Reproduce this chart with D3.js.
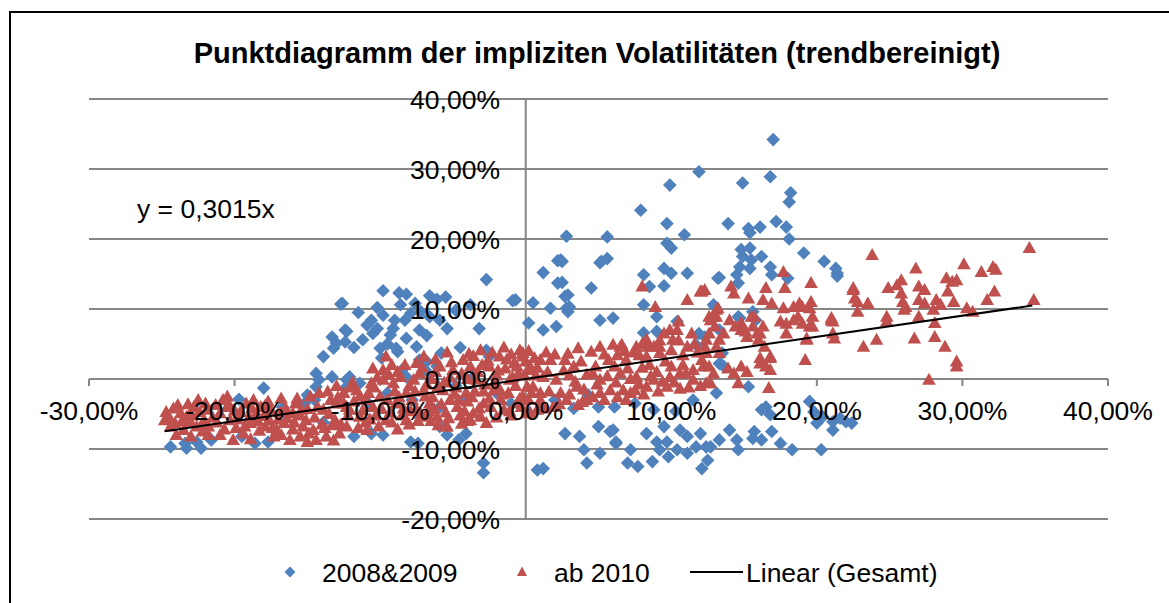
<!DOCTYPE html>
<meta charset="utf-8">
<style>
  body { margin: 0; background: #fff; }
  text { font-family: "Liberation Sans", Arial, sans-serif; }
</style>
<svg width="1169" height="603"></svg>
<script src="https://d3js.org/d3.v7.min.js"></script>
<script>
// values in percent
var xTicks = [-30, -20, -10, 0, 10, 20, 30, 40]
var yTicks = [-20, -10, 0, 10, 20, 30, 40]
var slope = 0.3015
var trendRange = [-24.8, 34.8]

var blue = [
  [-12.7,10.7],[-13.3,6.0],[-13.0,5.1],[-12.4,7.0],[-13.2,4.4],[-13.9,3.2],[-14.4,0.8],[-14.2,-0.1],[-13.3,0.3],[-14.4,-1.1],[-15.0,-2.3],[-15.2,-3.5],[-14.5,-3.0],[-18.0,-1.3],[-16.7,-4.0],[-19.7,-2.9],
  [-24.4,-9.7],[-23.4,-9.2],[-23.3,-9.9],[-22.6,-9.0],[-22.3,-9.9],[-21.6,-8.7],[-22.1,-6.8],[-18.6,-9.2],[-17.7,-9.0],[-19.5,-8.2],[-12.4,-1.3],[-12.3,-0.1],[-13.9,-6.2],
  [-2.7,14.2],[-9.8,12.6],[-8.7,12.3],[-8.2,12.1],[-7.6,10.8],[-6.6,11.9],[-6.1,11.4],[-5.5,11.7],[-12.6,10.8],[-0.9,11.2],[0.5,10.9],
  [-9.8,9.1],[-10.6,8.4],[-10.9,7.7],[-10.2,7.2],[-10.5,6.5],[-11.2,5.6],[-12.3,6.8],[-12.4,5.3],
  [-9.0,8.4],[-8.3,8.4],[-7.9,9.4],[-9.1,7.2],[-9.3,6.3],[-8.2,5.8],[-7.3,7.0],[-6.6,8.9],[-5.9,8.4],[-5.4,7.2],
  [-10.0,4.4],[-9.9,3.0],[-8.9,4.4],[-8.8,3.9],[0.2,8.0],
  [-7.3,2.7],[-6.8,2.5],[-5.8,3.7],[-6.1,1.8],[-6.9,1.3],[-8.5,1.3],[-8.2,0.3],[-12.1,0.3],[-11.4,-0.6],
  [-11.8,-8.2],[-10.6,-7.8],[-9.8,-8.0],[-7.9,-9.0],[-5.9,-6.8],[-5.4,-8.0],[-4.1,-7.8],[-2.9,-12.0],[-2.9,-13.4],[0.8,-13.0],[-7.4,-9.2],
  [1.2,15.2],[2.2,16.9],[5.1,16.6],[5.6,17.2],[2.2,13.7],
  [-0.7,11.3],[1.7,10.1],[2.7,11.8],[2.8,10.1],[2.9,9.6],[4.5,13.0],[5.1,8.4],[6.0,8.7],[1.2,7.0],[2.1,7.5],
  [2.7,-7.8],[3.7,-8.2],[4.0,-10.1],[4.2,-12.0],[5.1,-10.6],[5.8,-7.5],[6.2,-9.2],[7.2,-10.1],[7.0,-12.0],[7.7,-12.5],[1.2,-12.8],[-4.6,-8.7],
  [-2.5,3.2],[-2.7,4.1],
  [11.9,29.6],[9.9,27.7],[7.9,24.1],[9.7,22.2],[10.9,20.6],[2.8,20.4],[5.6,20.3],[9.7,19.4],[10.0,18.7],[2.4,17.0],
  [8.1,14.9],[9.5,15.8],[10.0,15.1],[11.1,15.1],[8.5,13.2],[9.5,13.3],[8.1,10.6],[9.0,8.9],[8.1,6.6],[9.0,6.8],[10.4,8.2],[13.0,10.3],[13.2,14.4],
  [5.0,-6.8],[6.0,-7.3],[6.2,-9.0],[8.3,-7.8],[8.7,-11.8],[9.0,-9.0],[9.2,-10.1],[9.5,-6.8],[9.7,-9.0],[9.8,-11.1],[10.4,-10.1],[10.6,-7.3],[11.1,-8.2],[11.1,-10.6],[11.7,-9.7],[12.0,-7.8],[12.1,-12.8],[12.5,-11.6],[12.7,-9.7],[13.1,-2.0],
  [17.0,34.2],[16.8,28.9],[14.9,28.0],[18.2,26.6],[18.1,25.3],
  [13.9,22.2],[15.3,21.5],[15.4,20.9],[16.1,21.7],[17.2,22.5],[17.9,21.7],[18.1,20.0],
  [14.8,18.5],[15.4,18.7],[14.9,17.5],[15.5,17.0],[16.2,17.5],[16.8,16.0],[16.9,14.9],[15.4,15.8],[14.7,16.0],[14.5,14.9],[14.6,13.7],[13.3,14.5],[19.1,18.0],[20.5,16.8],[21.3,15.8],[21.4,14.7],[18.0,14.4],[21.4,15.1],
  [12.9,10.6],[14.7,8.7],[15.6,9.6],[15.8,8.4],[13.3,7.0],[13.5,3.7],[13.6,1.8],[12.3,6.0],[15.3,-1.1],
  [16.2,-4.4],[16.5,-4.0],[16.8,-5.1],[19.5,-3.2],[19.8,-4.7],[20.0,-6.3],[20.4,-5.4],[21.1,-6.1],[21.6,-5.6],[22.0,-6.1],[22.4,-6.3],[21.1,-7.3],
  [14.0,-7.3],[14.5,-8.7],[15.7,-7.5],[15.6,-8.5],[16.2,-8.7],[16.9,-7.5],[17.5,-9.2],[18.3,-10.1],[20.3,-10.1],[14.6,-10.1],[13.3,-8.7],[12.4,-9.7],
  [2.5,16.8],[2.5,13.8],[2.9,12.0],[3.0,10.3],[5.2,16.8],[11.7,4.9],[13.3,2.2],[11.9,6.5],[14.6,8.9],
  [4.3,-2.3],[5.0,-4.0],[6.1,-4.0],[7.5,-3.5],[8.8,-4.4],[10.3,-4.6],[11.5,-3.0],[3.3,-4.2],[2.0,-3.0],[-1.0,-3.5],[-2.0,-2.0],
  [-9.5,-2.0],[-7.8,-3.0],[-6.0,-4.2],[-4.2,-3.0],[-10.8,-3.5],[-3.5,0.5],[-4.8,-1.0],
  [-11.5,9.5],[-10.2,10.2],[-8.6,10.6],[-7.2,9.6],[-6.8,6.2],[-11.8,4.5],[-9.5,5.0],[-7.5,4.6],[-4.8,9.8],[-3.8,10.6],[-4.5,4.5],[-3.2,7.2]
]

var red = [
  [-24.7,-4.7],[-24.8,-5.9],[-24.4,-6.8],[-23.9,-3.7],[-23.7,-4.9],[-24.1,-6.3],[-23.3,-5.4],[-22.8,-4.0],[-22.4,-4.7],[-22.1,-5.9],[-21.8,-6.8],[-21.3,-3.7],[-21.0,-4.9],[-20.5,-4.0],[-20.3,-5.9],[-20.1,-8.7],[-19.6,-4.7],[-19.2,-3.5],[-18.9,-6.3],[-18.5,-4.9],[-18.2,-4.0],[-17.9,-6.8],[-17.6,-5.9],[-17.1,-7.3],[-16.6,-6.3],[-16.2,-8.7],[-16.0,-4.9],[-15.5,-8.2],[-15.1,-5.9],[-14.6,-7.3],[-14.4,-8.7],[-13.9,-4.4],[-13.4,-3.0],[-13.1,-5.9],[-12.8,-7.8],[-12.3,-4.0],[-12.5,-2.0],[-23.5,-7.3],[-22.6,-6.8],[-19.4,-7.8],[-17.3,-8.2],[-15.3,-6.8],[-13.7,-8.2],[-18.7,-3.0],[-20.8,-3.0],
  [-24.5,-5.5],[-23.0,-6.2],[-22.0,-3.5],[-21.5,-5.5],[-20.0,-4.5],[-19.0,-5.5],[-18.0,-5.3],[-17.5,-4.5],[-17.0,-5.8],[-16.5,-4.2],[-16.0,-7.2],[-15.5,-5.2],[-15.0,-4.3],[-14.5,-5.5],[-14.0,-6.5],[-13.5,-5.0],[-13.0,-3.5],[-12.7,-6.5],[-21.8,-8.0],[-23.0,-8.2],[-19.9,-7.0],[-17.7,-3.2],[-16.8,-2.8],[-15.8,-3.5],[-14.8,-2.5],[-13.6,-1.8],[-12.0,-1.2],[-20.5,-2.5],[-22.5,-3.0],[-18.3,-7.4],
  [-24.2,-4.2],[-23.6,-6.0],[-23.2,-3.6],[-22.9,-5.2],[-22.2,-7.5],[-21.9,-4.4],[-21.2,-6.2],[-20.7,-7.2],[-20.4,-3.6],[-19.8,-5.8],[-19.3,-6.8],[-18.8,-4.2],[-18.4,-6.0],[-17.9,-3.8],[-17.4,-7.0],[-16.9,-4.8],[-16.4,-5.6],[-15.9,-6.2],[-15.4,-4.4],[-14.9,-7.8],[-14.3,-4.0],[-13.8,-7.0],[-13.3,-6.6],[-12.9,-2.6],[-12.2,-5.2],[-15.7,-2.8],[-14.2,-2.0],[-13.0,-1.0],[-24.0,-8.0],[-21.0,-8.0],[-18.9,-8.6],[-16.8,-8.0],[-15.0,-9.0],[-13.2,-8.8],
  [-12.5,-3.5],[-12.1,-4.4],[-12.3,-6.8],[-11.6,-1.6],[-11.4,-5.4],[-10.9,-7.3],[-10.6,-0.6],[-10.5,-4.0],[-10.0,-2.5],[-9.8,1.3],[-9.6,-5.9],[-9.1,-0.6],[-8.9,-3.5],[-8.6,0.3],[-8.2,-2.0],[-7.7,-0.1],[-7.5,-4.4],[-7.0,-1.6],[-6.6,-3.5],[-6.1,-5.4],[-5.7,-1.6],[-5.4,-6.8],[-5.0,1.3],[-4.7,-4.0],[-4.3,2.7],[-4.1,-2.0],[-3.8,-5.9],[-3.4,-0.1],[-3.1,4.1],[-2.9,-3.5],[-2.5,1.8],[-2.2,-1.6],[-1.8,3.2],[-1.5,-4.4],[-1.1,-0.1],[-0.8,2.2],[-0.4,4.1],[-0.2,-2.5],[0.3,1.3],[0.8,-4.4],[-11.4,-2.5],[-9.8,-0.1],[-8.2,-5.9],[-6.8,-5.4],[-5.2,-3.0],[-3.6,-4.9],[-2.7,-6.3],[-1.9,-1.1],[-0.6,-3.5],[0.5,-1.1],[-5.5,-6.8],
  [-11.8,-3.2],[-11.2,-4.5],[-10.8,-2.0],[-10.3,-5.2],[-10.2,0.2],[-9.5,-3.0],[-9.3,-4.8],[-9.0,-1.8],[-8.8,1.0],[-8.4,-4.2],[-8.0,-1.0],[-7.8,-3.0],[-7.3,0.8],[-7.2,-5.0],[-6.9,-2.5],[-6.5,0.0],[-6.3,-4.3],[-6.0,-1.0],[-5.9,1.8],[-5.5,-4.8],[-5.2,0.2],[-4.9,-2.2],[-4.5,-5.2],[-4.4,0.8],[-4.0,-3.2],[-3.8,1.8],[-3.5,-1.8],[-3.2,-4.2],[-3.0,2.0],[-2.8,-0.8],[-2.5,-2.8],[-2.3,3.8],[-2.0,0.5],[-1.7,-3.0],[-1.4,1.5],[-1.2,-2.0],[-1.0,3.5],[-0.7,-1.0],[-0.5,0.8],[-0.3,-4.0],[0.0,2.5],[0.2,-3.0],[0.6,3.0],[1.0,-2.0],[-9.2,2.0],[-7.5,2.3],[-6.2,2.8],[-10.5,1.5],[-8.0,-6.5],[-11.0,-6.2],[-6.5,-6.0],[-4.0,-6.0],[-2.0,-5.5],[-1.0,-5.2],[0.3,-4.8],[-3.6,3.3],[-1.5,4.5],[-0.2,3.2],
  [-11.9,-0.5],[-11.5,-7.0],[-11.0,-3.0],[-10.7,-5.8],[-10.4,-1.2],[-10.1,-6.8],[-9.9,-4.3],[-9.4,0.6],[-9.2,-6.2],[-8.7,-2.6],[-8.5,-5.2],[-8.3,2.0],[-7.9,-4.6],[-7.6,-1.8],[-7.4,-6.0],[-7.1,1.6],[-6.8,-0.8],[-6.7,-4.6],[-6.4,-2.6],[-6.2,1.0],[-5.8,-3.6],[-5.6,-0.5],[-5.3,-5.6],[-5.1,2.4],[-4.8,-1.2],[-4.6,-3.0],[-4.2,-4.6],[-4.0,0.0],[-3.9,3.6],[-3.7,-2.6],[-3.3,1.0],[-3.1,-5.4],[-2.9,-1.8],[-2.6,2.6],[-2.4,-4.0],[-2.1,-0.4],[-1.9,1.2],[-1.6,-2.2],[-1.3,2.8],[-1.1,-4.6],[-0.9,0.2],[-0.6,1.8],[-0.4,-2.8],[-0.1,0.5],[0.2,4.0],[0.4,-2.0],[0.7,0.5],[0.9,-4.0],[-7.0,3.2],[-5.4,3.8],[-8.8,-7.2],[-6.0,-6.6],[-4.4,-6.4],[-9.6,3.2],
  [-0.2,3.7],[0.3,1.8],[0.1,-1.1],[0.1,-4.9],[1.0,2.7],[1.2,0.3],[1.0,-3.0],[1.7,2.7],[2.1,-0.1],[2.4,-2.0],[2.7,2.7],[3.3,1.8],[3.5,-1.1],[3.6,-3.7],[4.5,3.9],[4.6,0.8],[5.1,-2.0],[5.7,2.7],[6.0,4.9],[6.6,4.9],[6.5,0.8],[6.7,-1.6],[6.9,2.7],[7.6,0.3],[8.0,13.2],[8.3,5.6],[8.8,4.6],[8.9,10.3],[8.8,-0.1],[9.2,3.7],[9.5,6.5],[9.7,-1.1],[10.0,4.1],[10.4,7.0],[10.6,0.8],[11.1,11.3],[11.1,4.6],[11.4,6.5],[11.5,1.3],[12.0,12.5],[12.1,2.7],[12.4,5.6],[12.6,8.9],[12.9,0.8],[13.1,4.6],[13.1,9.9],[8.3,-1.1],[5.8,-1.6],[4.2,-3.0],[2.8,-3.0],[7.2,-2.0],[9.9,0.3],[11.5,-0.1],[12.4,-0.6],[1.9,-4.0],[5.1,-0.1],
  [1.5,1.0],[2.0,3.5],[3.0,0.5],[3.8,2.5],[4.0,-1.5],[4.8,1.8],[5.4,3.5],[6.2,-0.5],[7.0,1.5],[7.4,3.8],[7.8,-0.8],[8.5,2.0],[9.0,1.0],[9.6,2.5],[10.2,-0.5],[10.8,2.0],[11.8,3.8],[12.6,1.8],[8.0,5.0],[9.2,5.5],[10.5,5.5],[6.8,4.0],
  [1.3,-4.2],[2.3,-3.6],[3.0,-2.2],[3.9,-3.3],[4.6,-2.6],[5.4,-3.0],[6.3,-2.6],[6.9,-3.0],[7.5,-1.6],[8.1,-2.2],[9.1,-1.8],[9.4,-0.4],[10.6,-1.4],[11.2,-1.2],[12.0,-1.0],[1.6,-1.8],[2.6,1.2],[3.4,-0.4],[4.2,0.6],[4.9,-0.8],[5.6,0.4],[6.1,1.8],[7.2,0.0],[8.0,1.6],[8.6,0.4],[10.0,1.8],[11.0,0.8],[0.8,1.6],[1.4,3.8],[2.9,3.6],[3.6,4.4],[5.1,4.6],[6.3,3.4],[7.6,4.6],[10.8,3.4],[11.6,5.0],[12.3,4.6],
  [12.1,12.5],[14.1,13.2],[14.3,12.2],[15.3,11.5],[16.5,13.0],[17.7,15.3],[17.8,13.0],[16.3,11.3],[16.9,10.8],[19.6,13.7],[19.6,11.0],[19.5,10.1],[18.8,10.8],[18.4,10.3],[17.7,10.1],[18.7,8.9],[18.4,8.4],[19.0,7.9],[17.5,8.2],[17.9,7.9],[19.5,7.5],[21.0,8.7],[22.5,13.0],[22.8,11.0],[23.5,10.8],[22.8,9.6],[23.8,17.7],[21.2,5.8],[23.2,4.6],[24.1,5.6],[19.2,2.7],[19.3,5.6],[16.7,-1.3],
  [12.3,12.7],[12.9,8.9],[13.0,7.5],[13.2,10.1],[12.6,6.5],[12.4,3.7],[12.2,1.8],[12.7,-0.6],[13.3,3.7],[13.3,5.6],
  [14.0,8.4],[14.4,7.5],[14.8,8.0],[15.1,6.8],[15.5,8.9],[15.6,7.5],[15.9,6.5],[16.3,7.5],[16.0,5.6],[16.4,4.6],[16.1,3.0],[16.5,1.8],[16.8,3.0],[14.8,1.8],[15.2,1.0],[14.6,-0.6],[13.9,1.5],[14.3,0.8],
  [13.1,8.9],[12.7,8.4],[10.5,8.2],[9.9,7.0],[10.1,5.6],[9.2,4.6],[8.4,4.6],[6.5,4.6],[7.8,3.4],[8.3,3.2],[13.6,6.5],[14.8,7.0],[15.2,6.0],[15.7,8.9],[16.1,6.5],[16.8,3.2],[16.1,2.2],[16.8,1.3],[17.9,6.5],[19.3,5.8],[19.7,8.9],[21.0,8.4],[21.1,6.5],
  [34.6,18.7],[34.9,11.3],[30.1,16.4],[31.3,15.3],[32.1,16.0],[32.3,15.6],[26.8,15.8],[28.9,14.4],[29.3,13.9],[29.6,14.1],[29.0,12.5],[25.8,14.1],[25.5,13.4],[24.9,13.0],[25.8,12.2],[22.5,12.7],[23.5,10.7],[27.0,13.2],[27.4,12.7],[27.0,11.3],[27.4,10.8],[28.2,11.3],[28.5,10.6],[28.0,9.9],[27.0,8.9],[28.1,8.0],[29.4,11.0],[25.9,11.0],[26.1,10.3],[26.0,9.9],[30.3,10.1],[30.7,9.6],[31.7,11.3],[32.2,12.5],[24.8,8.9],[24.8,8.2],[21.1,8.2],[26.7,5.8],[28.1,6.0],[28.8,4.6],[29.6,2.5],[29.6,1.8],[27.7,-0.1],[19.7,7.5],[19.0,10.3],[22.6,11.5]
]

var blueColor = '#4f81bd'
var redColor = '#c0504d'
var gridColor = '#878787'

var svg = d3.select('svg')
var x = d3.scaleLinear().domain([-30, 40]).range([89, 1108])
var y = d3.scaleLinear().domain([-20, 40]).range([519, 99])
function fmt(v) { return v.toFixed(2).replace('.', ',') + '%' }

var diamond = 'M0,-6.8L6.8,0L0,6.8L-6.8,0Z'
var triangle = 'M0,-7L6.8,5L-6.8,5Z'
var labelSize = 26.5

// outer frame
svg.append('rect')
  .attr('x', 10).attr('y', 12).attr('width', 1180).attr('height', 620)
  .attr('fill', 'none').attr('stroke', '#000').attr('stroke-width', 2)

// title
svg.append('text')
  .attr('x', 597).attr('y', 63)
  .attr('text-anchor', 'middle')
  .attr('font-size', 29).attr('font-weight', 'bold')
  .text('Punktdiagramm der impliziten Volatilitäten (trendbereinigt)')

// gridlines
svg.append('g').selectAll('line').data(yTicks).enter().append('line')
  .attr('x1', x(-30)).attr('x2', x(40))
  .attr('y1', function (d) { return y(d) }).attr('y2', function (d) { return y(d) })
  .attr('stroke', gridColor).attr('stroke-width', 2)

// vertical axis at x = 0
svg.append('line')
  .attr('x1', x(0)).attr('x2', x(0)).attr('y1', y(40)).attr('y2', y(-20))
  .attr('stroke', gridColor).attr('stroke-width', 2)

// tick marks on horizontal axis
svg.append('g').selectAll('line').data(xTicks).enter().append('line')
  .attr('x1', function (d) { return x(d) }).attr('x2', function (d) { return x(d) })
  .attr('y1', y(0)).attr('y2', y(0) + 7)
  .attr('stroke', gridColor).attr('stroke-width', 2)

// points
svg.append('g').selectAll('path').data(blue).enter().append('path')
  .attr('d', diamond)
  .attr('transform', function (d) { return 'translate(' + x(d[0]) + ',' + y(d[1]) + ')' })
  .attr('fill', blueColor)

svg.append('g').selectAll('path').data(red).enter().append('path')
  .attr('d', triangle)
  .attr('transform', function (d) { return 'translate(' + x(d[0]) + ',' + y(d[1]) + ')' })
  .attr('fill', redColor)

// trend line
svg.append('line')
  .attr('x1', x(trendRange[0])).attr('y1', y(trendRange[0] * slope))
  .attr('x2', x(trendRange[1])).attr('y2', y(trendRange[1] * slope))
  .attr('stroke', '#000').attr('stroke-width', 2)

// tick labels
svg.append('g').selectAll('text').data(xTicks).enter().append('text')
  .attr('x', function (d) { return x(d) }).attr('y', 420)
  .attr('text-anchor', 'middle').attr('font-size', labelSize)
  .text(fmt)

svg.append('g').selectAll('text').data(yTicks).enter().append('text')
  .attr('x', 500).attr('y', function (d) { return y(d) + 9.5 })
  .attr('text-anchor', 'end').attr('font-size', labelSize)
  .text(fmt)

// equation
svg.append('text')
  .attr('x', 137).attr('y', 218).attr('font-size', labelSize)
  .text('y = 0,3015x')

// legend
var legendY = 572
svg.append('path').attr('d', 'M0,-5.5L5.5,0L0,5.5L-5.5,0Z')
  .attr('transform', 'translate(290,' + legendY + ')').attr('fill', blueColor)
svg.append('text').attr('x', 322).attr('y', legendY + 9.5).attr('font-size', labelSize).text('2008&2009')
svg.append('path').attr('d', 'M0,-5.5L5,4L-5,4Z')
  .attr('transform', 'translate(522,' + legendY + ')').attr('fill', redColor)
svg.append('text').attr('x', 554).attr('y', legendY + 9.5).attr('font-size', labelSize).text('ab 2010')
svg.append('line').attr('x1', 690).attr('x2', 743).attr('y1', legendY).attr('y2', legendY)
  .attr('stroke', '#000').attr('stroke-width', 2)
svg.append('text').attr('x', 746).attr('y', legendY + 9.5).attr('font-size', labelSize).text('Linear (Gesamt)')
</script>
